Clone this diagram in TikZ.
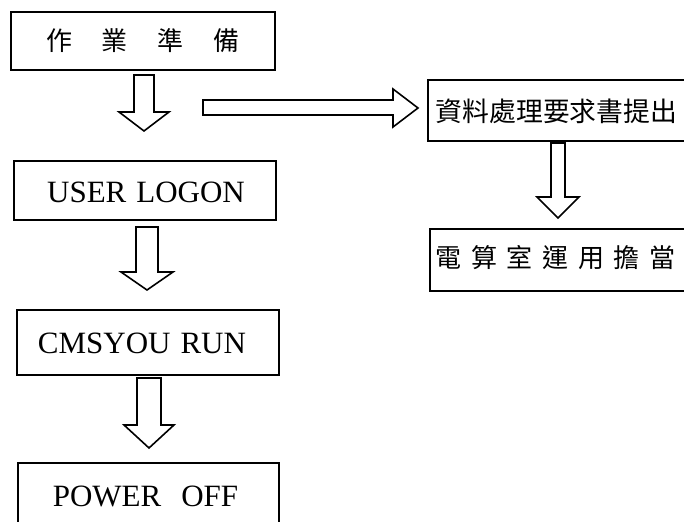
\documentclass[tikz,border=0pt]{standalone}
\usepackage{fontspec}
\setmainfont{Liberation Serif}
\newfontfamily\cjk{Noto Sans CJK TC}
\begin{document}
\begin{tikzpicture}[x=0.5pt,y=-0.5pt, line width=0.8pt,
  box/.style={draw, rectangle, inner sep=0pt},
  lat/.style={font=\fontsize{15.5}{18}\selectfont},
  hz/.style={font=\cjk\fontsize{13}{15}\selectfont},
  hollow/.style={draw, line width=0.8pt, line join=miter}]
\newcommand\hdown[6]{\draw[hollow] (#1-#5,#2) -- (#1+#5,#2) -- (#1+#5,#3) -- (#1+#6,#3) -- (#1,#4) -- (#1-#6,#3) -- (#1-#5,#3) -- cycle;}
\useasboundingbox (0,0) rectangle (684,522);
\clip (0,0) rectangle (684,522);
% left column
\node[box, minimum width=132pt, minimum height=29pt, hz] (b1) at (143,41) {作\hspace{15pt}業\hspace{15pt}準\hspace{15pt}備};
\node[box, minimum width=131pt, minimum height=29.5pt] (b2) at (145,190.5) {};
\node[lat, inner sep=0pt] (t2) at (146,192) {USER\hspace{5pt}LOGON};
\node[box, minimum width=131pt, minimum height=32.5pt] (b3) at (148,342.5) {};
\node[lat, inner sep=0pt] (t3) at (142,343) {CMSYOU\hspace{5pt}RUN};
\node[box, minimum width=130.5pt, minimum height=33pt] (b4) at (148.5,496) {};
\node[lat, inner sep=0pt] (t4) at (145.5,496) {POWER\hspace{10pt}OFF};
% right column
\node[box, minimum width=136pt, minimum height=30.5pt] (b5) at (564,110.5) {};
\node[anchor=west, inner sep=0pt, font=\cjk\fontsize{13.4}{15}\selectfont] (t5) at (435,111) {資料處理要求書提出};
\node[box, minimum width=135pt, minimum height=31pt] (b6) at (565,260) {};
\node[hz, anchor=west, inner sep=0pt] (t6) at (435,258) {電\hspace{4.8pt}算\hspace{4.8pt}室\hspace{4.8pt}運\hspace{4.8pt}用\hspace{4.8pt}擔\hspace{4.8pt}當};
% hollow arrows
\hdown{144}{75}{112}{131}{10}{25}
\hdown{147}{227}{272}{290}{11}{26}
\hdown{149}{378}{425}{448}{12}{25}
\hdown{558}{143}{197}{218}{7}{21}
\draw[hollow] (203,100) -- (393,100) -- (393,89) -- (418,108) -- (393,127) -- (393,115) -- (203,115) -- cycle;
\end{tikzpicture}
\end{document}
